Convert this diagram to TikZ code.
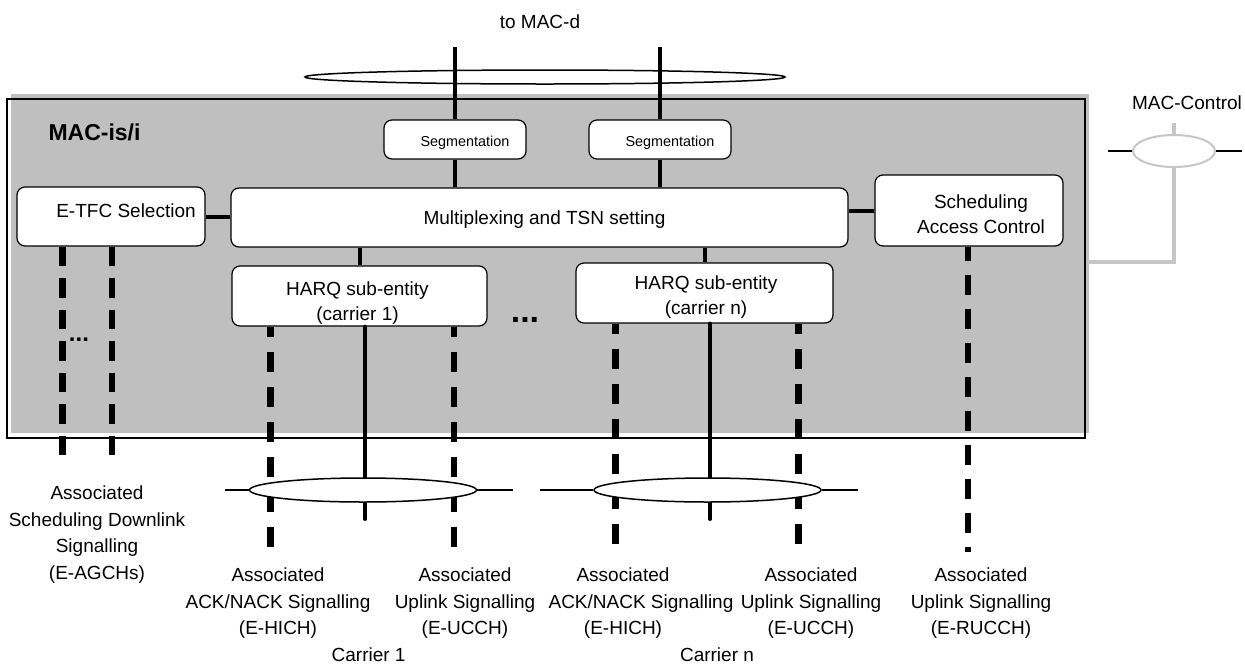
\documentclass[tikz,border=0pt]{standalone}
\usepackage{fontspec}
\setmainfont{Liberation Sans}
\usetikzlibrary{shapes.geometric}
\begin{document}
\begin{tikzpicture}[x=1pt,y=-1pt,
  box/.style={draw,fill=white,rounded corners=8pt,line width=1.2pt,inner sep=0pt},
  boxlbl/.style={font=\fontsize{19}{25}\selectfont,align=center,inner sep=0pt},
  seglbl/.style={font=\fontsize{14.4}{17}\selectfont,inner sep=0pt},
  lbl/.style={font=\fontsize{19}{26.5}\selectfont,align=center,inner sep=0pt},
  conn/.style={line width=4pt},
  dconn/.style={line width=6.5pt,dash pattern=on 20pt off 15pt,dash phase=10pt},
  edconn/.style={line width=6.5pt,dash pattern=on 19.5pt off 12pt},
  sdconn/.style={line width=6.5pt,dash pattern=on 20pt off 14pt,dash phase=6pt},
  hline/.style={line width=1.5pt},
  gline/.style={line width=4pt,draw=gray!45},
  oval/.style={ellipse,draw,line width=1.5pt,inner sep=0pt},
]
\useasboundingbox (0,0) rectangle (1245,665);
% MAC-is/i frame
\fill[gray!50] (11,94) rectangle (1089,433);
\draw[line width=1.5pt] (7,99) rectangle (1085,438);
\node[font=\fontsize{23}{27}\selectfont\bfseries,inner sep=0pt] (title) at (94.5,132) {MAC-is/i};

% top bundle
\node[lbl] (tomac) at (540,22) {to MAC-d};
\node[oval,minimum width=480pt,minimum height=14pt] (bus) at (545,77) {};

% boxes
\node[box,minimum width=142pt,minimum height=39pt,label={[seglbl,shift={(10,3)}]center:Segmentation}] (seg1) at (455,139.5) {};
\node[box,minimum width=142pt,minimum height=39pt,label={[seglbl,shift={(10,3)}]center:Segmentation}] (seg2) at (660,139.5) {};
\node[box,minimum width=617pt,minimum height=59pt,label={[boxlbl,shift={(5,2.5)}]center:Multiplexing and TSN setting}] (mux) at (539.5,217.5) {};
\node[box,minimum width=188pt,minimum height=59pt,label={[boxlbl,shift={(15,-5.5)}]center:E-TFC Selection}] (etfc) at (111,216.5) {};
\node[box,minimum width=188pt,minimum height=71pt,label={[boxlbl,shift={(12,3.5)}]center:{Scheduling\\Access Control}}] (sac) at (969,210.5) {};
\node[box,minimum width=255pt,minimum height=60pt,label={[boxlbl,shift={(-2,7)}]center:{HARQ sub-entity\\(carrier 1)}}] (harq1) at (359.5,296) {};
\node[box,minimum width=257pt,minimum height=60pt,label={[boxlbl,shift={(1.5,4)}]center:{HARQ sub-entity\\(carrier n)}}] (harqn) at (704.5,293) {};

\node[font=\fontsize{34}{34}\selectfont\bfseries,inner sep=0pt,anchor=base] (dots1) at (525,322) {...};
\node[font=\fontsize{24}{24}\selectfont\bfseries,inner sep=0pt,anchor=base] (dots0) at (79,341) {...};

% top connectors
\coordinate (t1) at (455,47);
\coordinate (t2) at (660,47);
\draw[conn] (t1) -- (seg1.north);
\draw[conn] (t2) -- (seg2.north);
\draw[conn] (seg1.south) -- (seg1.south |- mux.north);
\draw[conn] (seg2.south) -- (seg2.south |- mux.north);
\draw[conn] (etfc.east) -- (etfc.east -| mux.west);
\draw[conn] (sac.west -| mux.east) -- (sac.west);
\draw[conn] (harq1.north |- mux.south) -- (harq1.north);
\draw[conn] (harqn.north |- mux.south) -- (harqn.north);

% downward channels
\coordinate (ea) at (62.7,454.5);
\coordinate (eb) at (112,454.5);
\draw[edconn] (ea |- etfc.south) -- (ea);
\draw[edconn] (eb |- etfc.south) -- (eb);
\coordinate (h1a) at (270.7,549);
\coordinate (h1b) at (365,519);
\coordinate (h1c) at (454,549);
\draw[dconn] (h1a |- harq1.south) -- (h1a);
\draw[conn,line cap=round] (h1b |- harq1.south) -- (h1b);
\draw[dconn] (h1c |- harq1.south) -- (h1c);
\coordinate (hna) at (615.7,550);
\coordinate (hnb) at (710,519);
\coordinate (hnc) at (798.5,550);
\draw[dconn] (hna |- harqn.south) -- (hna);
\draw[conn,line cap=round] (hnb |- harqn.south) -- (hnb);
\draw[dconn] (hnc |- harqn.south) -- (hnc);
\coordinate (sa) at (968,552);
\draw[sdconn] (sa |- sac.south) -- (sa);

% carrier bundles
\node[oval,fill=white,minimum width=227pt,minimum height=24pt] (e1) at (363,490) {};
\node[oval,fill=white,minimum width=227pt,minimum height=24pt] (e2) at (707.5,490) {};
\coordinate (e1l) at (225,490);
\coordinate (e1r) at (513,490);
\coordinate (e2l) at (540,490);
\coordinate (e2r) at (858,490);
\draw[hline] (e1l) -- (e1.west);
\draw[hline] (e1.east) -- (e1r);
\draw[hline] (e2l) -- (e2.west);
\draw[hline] (e2.east) -- (e2r);

% MAC-Control
\node[lbl] (mcl) at (1187,103) {MAC-Control};
\node[ellipse,draw=gray!45,line width=2pt,fill=white,inner sep=0pt,minimum width=82pt,minimum height=32pt] (mce) at (1174,151) {};
\coordinate (mct) at (1174,123);
\coordinate (mcb) at (1088,262);
\draw[gline] (mct) -- (mce.north);
\draw[gline] (mce.south) |- (mcb);
\coordinate (mcl1) at (1108,151);
\coordinate (mcr1) at (1242,151);
\draw[hline] (mcl1) -- (mce.west);
\draw[hline] (mce.east) -- (mcr1);

% bottom labels
\node[lbl] (la) at (97,534.5) {Associated\\Scheduling Downlink\\Signalling\\(E-AGCHs)};
\node[lbl] (lb) at (278,603.5) {Associated\\ACK/NACK Signalling\\(E-HICH)};
\node[lbl] (lc) at (465,603.5) {Associated\\Uplink Signalling\\(E-UCCH)};
\node[lbl] (ld) at (623,603.5) {Associated\\\hspace*{36pt}ACK/NACK Signalling\\(E-HICH)};
\node[lbl] (le) at (811,603.5) {Associated\\Uplink Signalling\\(E-UCCH)};
\node[lbl] (lf) at (981,603.5) {Associated\\Uplink Signalling\\(E-RUCCH)};
\node[lbl] (c1) at (368.6,655) {Carrier 1};
\node[lbl] (cn) at (717,655) {Carrier n};
\end{tikzpicture}
\end{document}
